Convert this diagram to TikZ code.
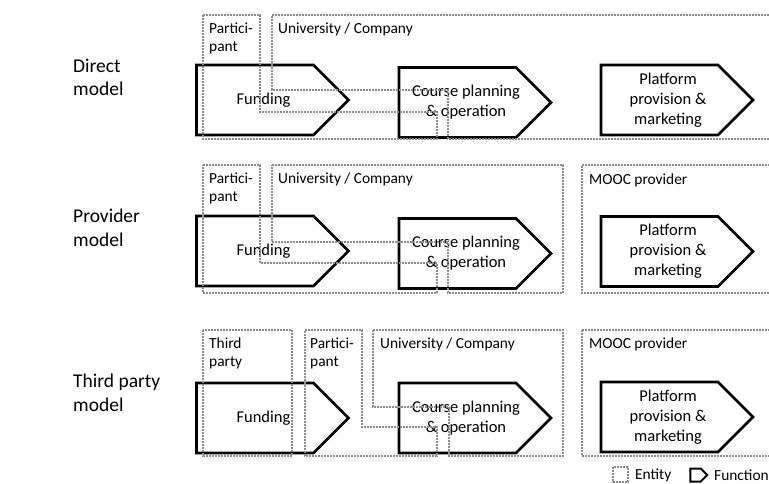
\documentclass[tikz,border=0pt]{standalone}
\usepackage{fontspec}
\setmainfont{Carlito}
\usetikzlibrary{shapes.symbols}
\definecolor{entgray}{RGB}{140,140,140}

\begin{document}
\begin{tikzpicture}[x=1pt, y=-1pt,
  function/.style={draw, line width=2.6pt, signal, signal to=east, signal pointer angle=90, minimum width=152, minimum height=70, inner sep=0, label={[functext]center:#1}},
  functext/.style={xshift=8.5pt, inner sep=0, align=center, font={\fontsize{16.5}{20}\selectfont}},
  entity/.style={draw=entgray, line width=2pt, dash pattern=on 2pt off 1pt},
  entlabel/.style={anchor=north west, inner sep=0, align=left, font={\fontsize{15.4}{18}\selectfont}},
  rowlabel/.style={anchor=west, inner sep=0, align=left, font={\fontsize{19.5}{23.5}\selectfont}}]

\useasboundingbox (0,0) rectangle (769,484);

% row labels
\node[rowlabel] (direct) at (73,77.5) {Direct\\model};
\node[rowlabel] (provider) at (73,228) {Provider\\model};
\node[rowlabel] (thirdparty) at (73,393) {Third party\\model};

% functions
\node[function={Funding}] (fund1) at (255,100) {};
\node[function={Course planning\\\& operation}] (course1) at (457.5,102.5) {};
\node[function={Platform\\provision \&\\marketing}] (platform1) at (659.5,100) {};

\node[function={Funding}] (fund2) at (255,251) {};
\node[function={Course planning\\\& operation}] (course2) at (457.5,253.5) {};
\node[function={Platform\\provision \&\\marketing}] (platform2) at (659.5,251.5) {};

\node[function={Funding}] (fund3) at (255,418) {};
\node[function={Course planning\\\& operation}] (course3) at (457.5,418) {};
\node[function={Platform\\provision \&\\marketing}] (platform3) at (659.5,417) {};

% entities, direct model
\draw[entity] (203,15) -- (260,15) -- (260,112) -- (437,112) -- (437,139) -- (203,139) -- cycle;
\draw[entity] (272,15) -- (790,15) -- (790,139) -- (448,139) -- (448,90) -- (272,90) -- cycle;
\node[entlabel] (part1) at (209,23) {Partici-\\pant};
\node[entlabel] (uni1) at (278,23) {University / Company};

% entities, provider model
\draw[entity] (203,165) -- (260,165) -- (260,263) -- (437,263) -- (437,293) -- (203,293) -- cycle;
\draw[entity] (272,165) -- (563,165) -- (563,293) -- (448,293) -- (448,242) -- (272,242) -- cycle;
\draw[entity] (582,165) -- (790,165) -- (790,293) -- (582,293) -- cycle;
\node[entlabel] (part2) at (209,173) {Partici-\\pant};
\node[entlabel] (uni2) at (278,173) {University / Company};
\node[entlabel] (mooc2) at (589,174) {MOOC provider};

% entities, third party model
\draw[entity] (203,330) rectangle (292,456);
\draw[entity] (305,330) -- (362,330) -- (362,427) -- (437,427) -- (437,456) -- (305,456) -- cycle;
\draw[entity] (373,330) -- (563,330) -- (563,456) -- (449,456) -- (449,407) -- (373,407) -- cycle;
\draw[entity] (582,330) -- (790,330) -- (790,456) -- (582,456) -- cycle;
\node[entlabel] (third3) at (209,338) {Third\\party};
\node[entlabel] (part3) at (310,338) {Partici-\\pant};
\node[entlabel] (uni3) at (380,338) {University / Company};
\node[entlabel] (mooc3) at (589,338) {MOOC provider};

% legend
\draw[entity, line width=1.5pt] (613,467) rectangle (628,482);
\node[entlabel, anchor=west] (entkey) at (635,475) {Entity};
\node[function={}, line width=2pt, minimum width=17, minimum height=13] (funckey) at (695.5,475) {};
\node[entlabel, anchor=west] (funckeytext) at (714,475) {Function};

\end{tikzpicture}
\end{document}
